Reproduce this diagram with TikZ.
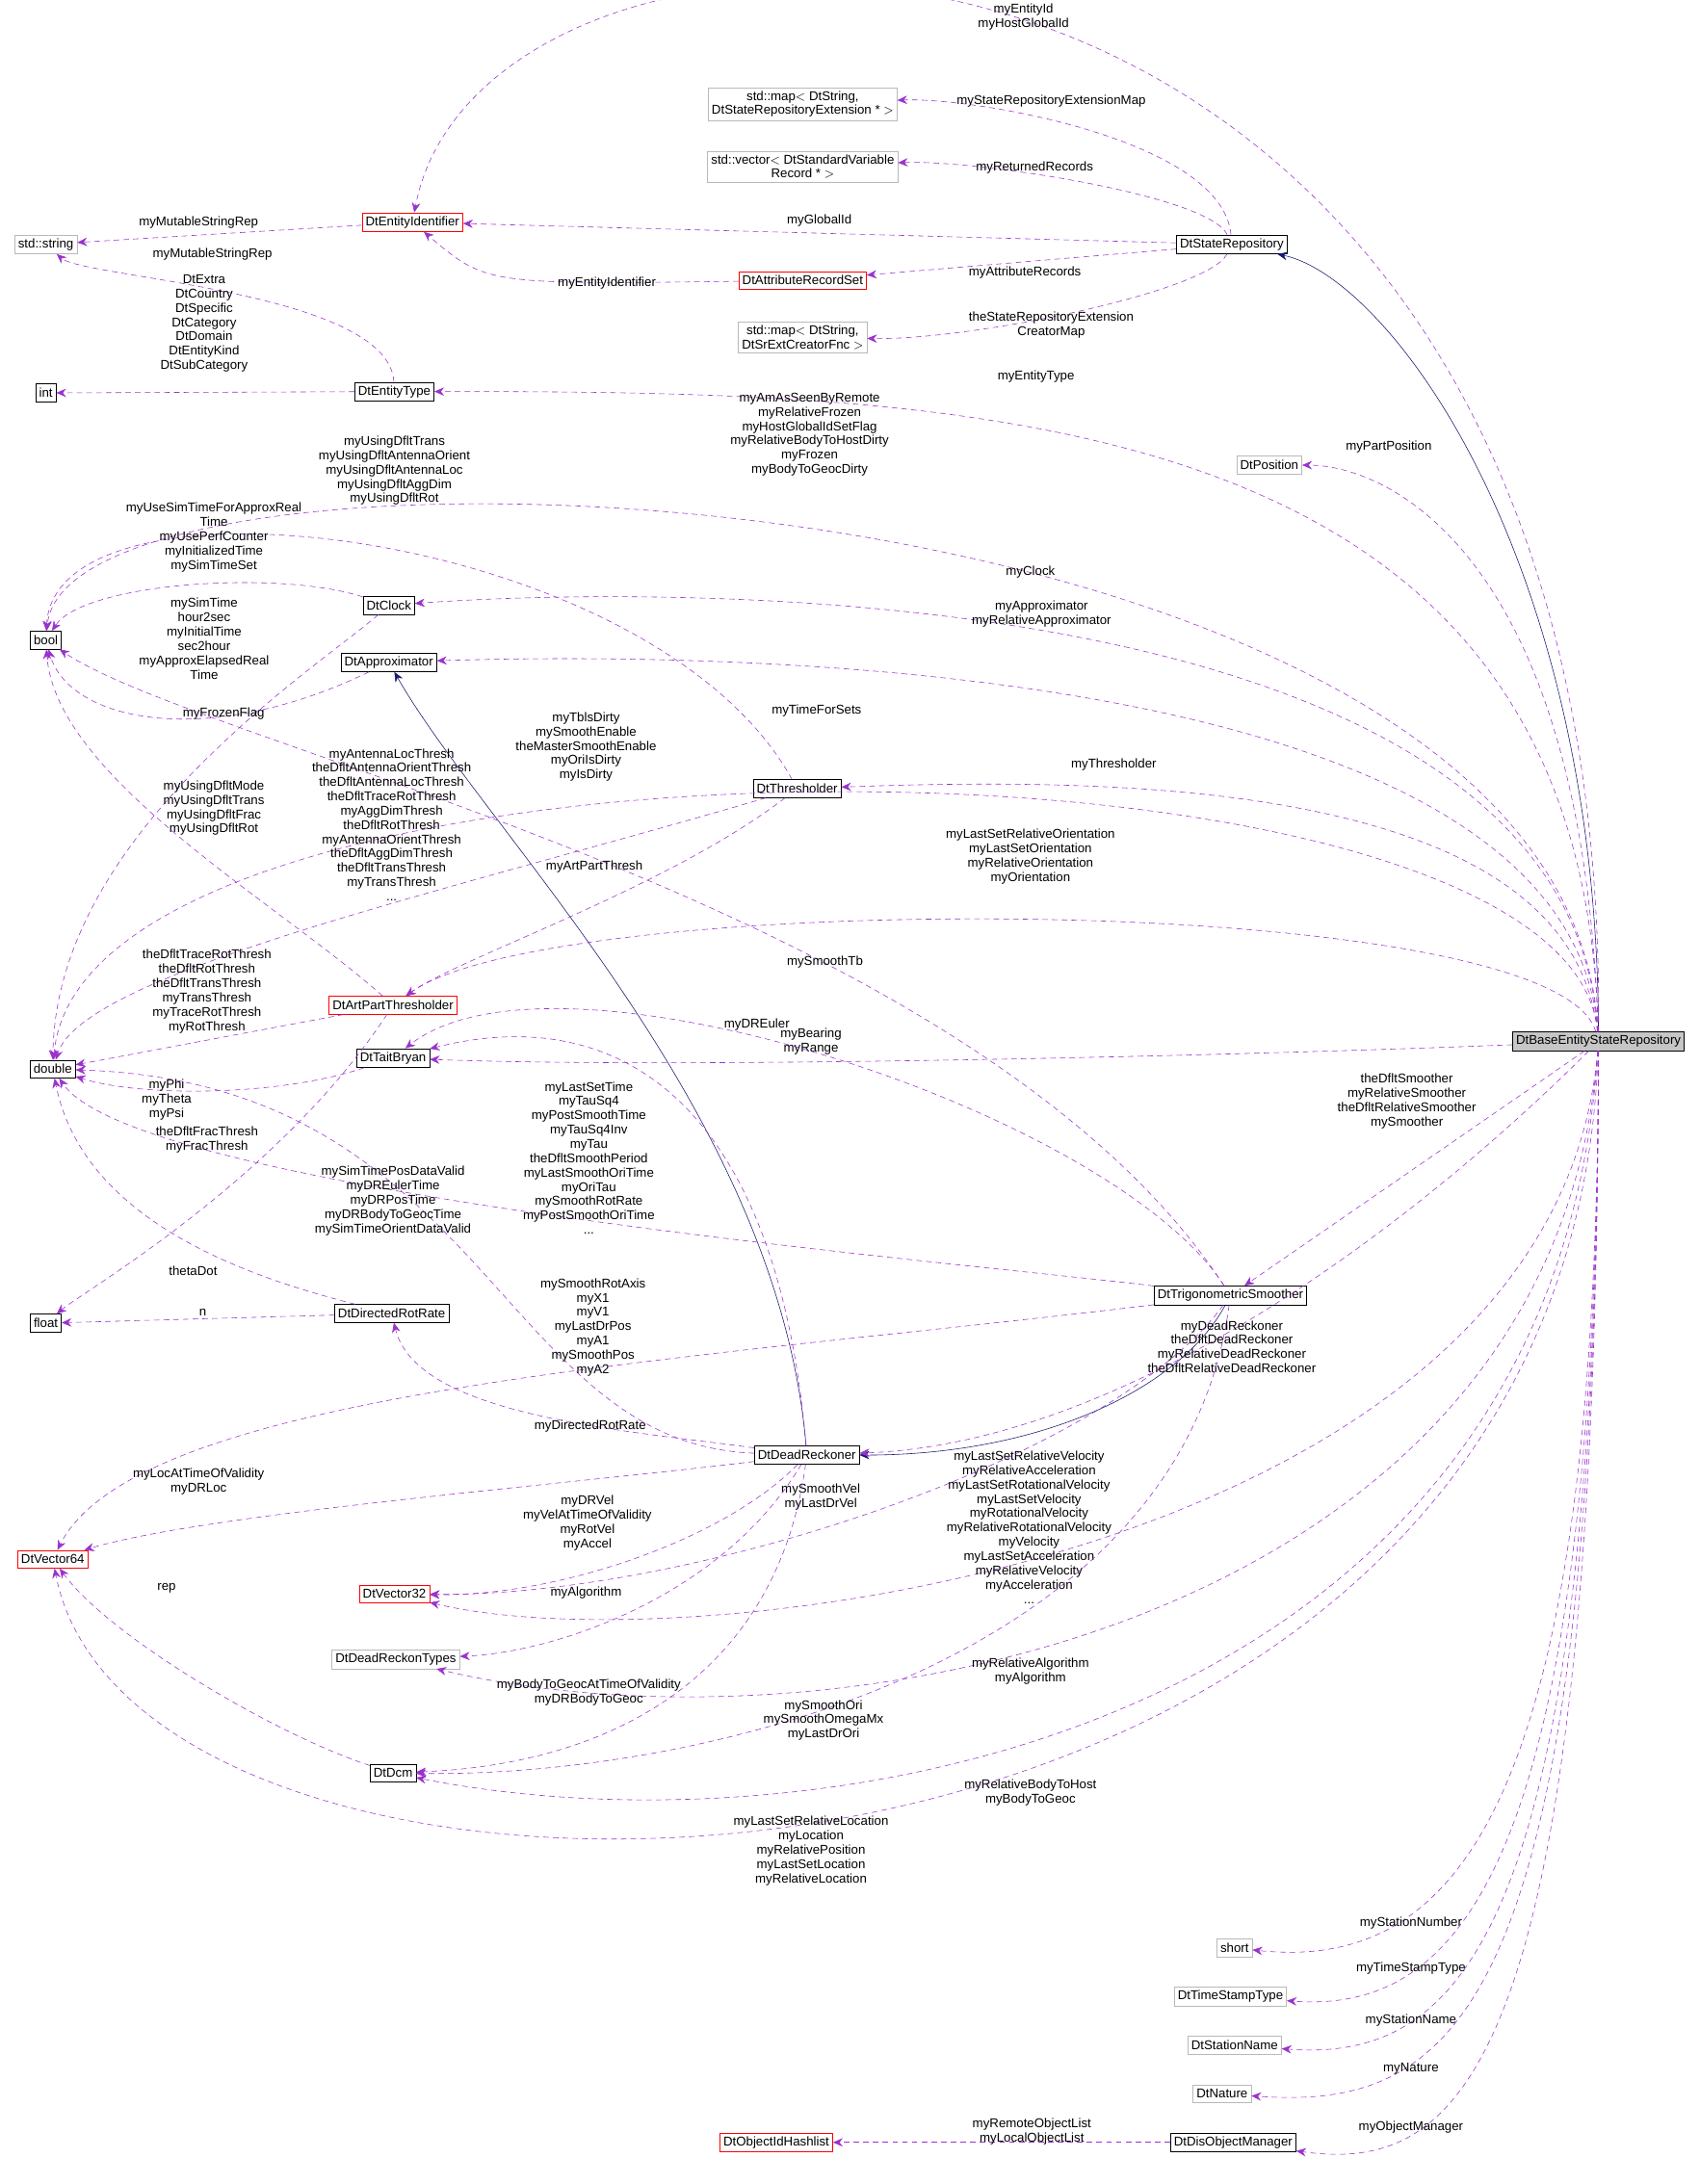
\documentclass[tikz,border=0pt]{standalone}
\usepackage{fontspec}
\setmainfont{Liberation Sans}
\usepackage{tikz}
\usetikzlibrary{arrows.meta}
\definecolor{usecol}{HTML}{9A32CD}
\definecolor{inhcol}{HTML}{191970}

\begin{document}
\begin{tikzpicture}[x=1pt, y=-1pt,
  every node/.style={font=\fontsize{9.2}{10.3}\selectfont},
  box/.style={draw=black, fill=white, align=center, inner sep=2.5pt, minimum height=13pt},
  gbox/.style={box, draw=gray!55},
  rbox/.style={box, draw=red},
  lbl/.style={align=center, inner sep=0pt},
  use/.style={draw=usecol, dash pattern=on 4pt off 3pt, -{Stealth[length=7pt,width=6pt,fill=usecol]}},
  inh/.style={draw=inhcol, -{Stealth[length=7pt,width=6pt,fill=inhcol]}}
]
\useasboundingbox (0,0) rectangle (1224,1573);

% classes
\node[box, fill=gray!45] (base) at (1151,750) {DtBaseEntityStateRepository};
\node[box] (staterep) at (887,176) {DtStateRepository};
\node[gbox] (mapext) at (578,75) {std::map$<$ DtString,\\ DtStateRepositoryExtension * $>$};
\node[gbox] (vecrec) at (578,120) {std::vector$<$ DtStandardVariable\\Record * $>$};
\node[rbox] (ident) at (297,160) {DtEntityIdentifier};
\node[gbox] (stdstr) at (33,176) {std::string};
\node[rbox] (attrrec) at (578,202) {DtAttributeRecordSet};
\node[gbox] (mapcre) at (578,243) {std::map$<$ DtString,\\ DtSrExtCreatorFnc $>$};
\node[box] (int) at (33,283) {int};
\node[box] (enttype) at (284,282) {DtEntityType};
\node[gbox] (pos) at (914,335) {DtPosition};
\node[box] (bool) at (33,461) {bool};
\node[box] (clock) at (280,436) {DtClock};
\node[box] (approx) at (280,477) {DtApproximator};
\node[box] (thresh) at (574,568) {DtThresholder};
\node[box] (double) at (38,770) {double};
\node[rbox] (artpart) at (283,724) {DtArtPartThresholder};
\node[box] (tait) at (283,762) {DtTaitBryan};
\node[box] (float) at (33,953) {float};
\node[box] (drr) at (282,946) {DtDirectedRotRate};
\node[box] (trig) at (886,933) {DtTrigonometricSmoother};
\node[box] (dr) at (581,1048) {DtDeadReckoner};
\node[rbox] (vecsf) at (38,1123) {DtVector64};
\node[rbox] (vectt) at (284,1148) {DtVector32};
\node[gbox] (drtypes) at (285,1195) {DtDeadReckonTypes};
\node[box] (dcm) at (283,1277) {DtDcm};
\node[gbox] (short) at (889,1403) {short};
\node[gbox] (tstype) at (886,1438) {DtTimeStampType};
\node[gbox] (stname) at (889,1473) {DtStationName};
\node[gbox] (nature) at (880,1508) {DtNature};
\node[rbox] (objid) at (559,1543) {DtObjectIdHashlist};
\node[box] (disobj) at (888,1543) {DtDisObjectManager};

% inheritance
\draw[inh] (base) .. controls (1150,400) and (1000,200) .. (staterep);
\draw[inh] (dr) .. controls (560,800) and (350,600) .. (approx);
\draw[inh] (trig) .. controls (850,1000) and (750,1048) .. (dr);

% members of DtBaseEntityStateRepository
\draw[use] (base) .. controls (1160,-130) and (350,-120) .. (ident);
\node[lbl] at (737,12) {myEntityId\\myHostGlobalId};
\draw[use] (base) .. controls (1140,290) and (700,282) .. (enttype);
\node[lbl] at (746,271) {myEntityType};
\draw[use] (base) .. controls (1130,330) and (50,290) .. (bool);
\node[lbl] at (583,313) {myAmAsSeenByRemote\\myRelativeFrozen\\myHostGlobalIdSetFlag\\myRelativeBodyToHostDirty\\myFrozen\\myBodyToGeocDirty};
\draw[use] (base) .. controls (1140,400) and (1000,335) .. (pos);
\node[lbl] at (1000,322) {myPartPosition};
\draw[use] (base) .. controls (1130,420) and (500,420) .. (clock);
\node[lbl] at (742,412) {myClock};
\draw[use] (base) .. controls (1130,470) and (500,470) .. (approx);
\node[lbl] at (750,442) {myApproximator\\myRelativeApproximator};
\draw[use] (base) .. controls (1130,510) and (60,510) .. (double);
\node[lbl] at (588,512) {myTimeForSets};
\draw[use] (base) .. controls (1130,560) and (800,560) .. (thresh);
\node[lbl] at (802,551) {myThresholder};
\draw[use] (base) .. controls (1120,640) and (400,640) .. (artpart);
\node[lbl] at (742,617) {myLastSetRelativeOrientation\\myLastSetOrientation\\myRelativeOrientation\\myOrientation};
\draw[use] (base) .. controls (900,760) and (500,770) .. (tait);
\node[lbl] at (584,750) {myBearing\\myRange};
\draw[use] (base) -- (trig);
\node[lbl] at (1013,793) {theDfltSmoother\\myRelativeSmoother\\theDfltRelativeSmoother\\mySmoother};
\draw[use] (base) .. controls (1000,900) and (800,1040) .. (dr);
\node[lbl] at (887,970) {myDeadReckoner\\theDfltDeadReckoner\\myRelativeDeadReckoner\\theDfltRelativeDeadReckoner};
\draw[use] (base) .. controls (1120,1120) and (500,1200) .. (vectt);
\node[lbl] at (741,1100) {myLastSetRelativeVelocity\\myRelativeAcceleration\\myLastSetRotationalVelocity\\myLastSetVelocity\\myRotationalVelocity\\myRelativeRotationalVelocity\\myVelocity\\myLastSetAcceleration\\myRelativeVelocity\\myAcceleration\\...};
\draw[use] (base) .. controls (1120,1170) and (600,1270) .. (drtypes);
\node[lbl] at (742,1204) {myRelativeAlgorithm\\myAlgorithm};
\draw[use] (base) .. controls (1120,1240) and (600,1340) .. (dcm);
\node[lbl] at (742,1291) {myRelativeBodyToHost\\myBodyToGeoc};
\draw[use] (base) .. controls (1130,1420) and (100,1440) .. (vecsf);
\node[lbl] at (584,1333) {myLastSetRelativeLocation\\myLocation\\myRelativePosition\\myLastSetLocation\\myRelativeLocation};
\draw[use] (base) .. controls (1150,1300) and (1050,1420) .. (short);
\node[lbl] at (1016,1385) {myStationNumber};
\draw[use] (base) .. controls (1150,1350) and (1050,1450) .. (tstype);
\node[lbl] at (1016,1418) {myTimeStampType};
\draw[use] (base) .. controls (1150,1400) and (1050,1485) .. (stname);
\node[lbl] at (1016,1455) {myStationName};
\draw[use] (base) .. controls (1150,1450) and (1050,1520) .. (nature);
\node[lbl] at (1016,1490) {myNature};
\draw[use] (base) .. controls (1150,1500) and (1050,1565) .. (disobj);
\node[lbl] at (1016,1532) {myObjectManager};

% members of DtStateRepository
\draw[use] (staterep) .. controls (880,100) and (700,70) .. (mapext);
\node[lbl] at (757,73) {myStateRepositoryExtensionMap};
\draw[use] (staterep) .. controls (870,140) and (700,115) .. (vecrec);
\node[lbl] at (745,121) {myReturnedRecords};
\draw[use] (staterep) -- (ident);
\node[lbl] at (590,159) {myGlobalId};
\draw[use] (staterep) -- (attrrec);
\node[lbl] at (738,196) {myAttributeRecords};
\draw[use] (staterep) .. controls (870,210) and (700,245) .. (mapcre);
\node[lbl] at (757,234) {theStateRepositoryExtension\\CreatorMap};

% other members
\draw[use] (ident) -- (stdstr);
\node[lbl] at (143,160) {myMutableStringRep};
\draw[use] (attrrec) .. controls (350,205) .. (ident);
\node[lbl] at (437,204) {myEntityIdentifier};
\draw[use] (enttype) .. controls (280,210) and (60,200) .. (stdstr);
\node[lbl] at (153,183) {myMutableStringRep};
\draw[use] (enttype) -- (int);
\node[lbl] at (147,233) {DtExtra\\DtCountry\\DtSpecific\\DtCategory\\DtDomain\\DtEntityKind\\DtSubCategory};
\draw[use] (thresh) .. controls (470,380) and (40,330) .. (bool);
\node[lbl] at (284,339) {myUsingDfltTrans\\myUsingDfltAntennaOrient\\myUsingDfltAntennaLoc\\myUsingDfltAggDim\\myUsingDfltRot};
\draw[use] (clock) .. controls (200,410) and (60,420) .. (bool);
\node[lbl] at (154,387) {myUseSimTimeForApproxReal\\Time\\myUsePerfCounter\\myInitializedTime\\mySimTimeSet};
\draw[use] (clock) .. controls (230,480) and (40,600) .. (double);
\node[lbl] at (147,460) {mySimTime\\hour2sec\\myInitialTime\\sec2hour\\myApproxElapsedReal\\Time};
\draw[use] (approx) .. controls (150,540) and (50,520) .. (bool);
\node[lbl] at (161,514) {myFrozenFlag};
\draw[use] (trig) .. controls (700,650) and (150,540) .. (bool);
\node[lbl] at (422,538) {myTblsDirty\\mySmoothEnable\\theMasterSmoothEnable\\myOriIsDirty\\myIsDirty};
\draw[use] (artpart) .. controls (200,650) and (40,560) .. (bool);
\node[lbl] at (154,582) {myUsingDfltMode\\myUsingDfltTrans\\myUsingDfltFrac\\myUsingDfltRot};
\draw[use] (thresh) .. controls (330,640) and (60,700) .. (double);
\node[lbl] at (282,594) {myAntennaLocThresh\\theDfltAntennaOrientThresh\\theDfltAntennaLocThresh\\theDfltTraceRotThresh\\myAggDimThresh\\theDfltRotThresh\\myAntennaOrientThresh\\theDfltAggDimThresh\\theDfltTransThresh\\myTransThresh\\...};
\draw[use] (thresh) .. controls (480,640) and (330,690) .. (artpart);
\node[lbl] at (428,624) {myArtPartThresh};
\draw[use] (trig) .. controls (800,800) and (400,670) .. (tait);
\node[lbl] at (594,693) {mySmoothTb};
\draw[use] (artpart) -- (double);
\node[lbl] at (149,714) {theDfltTraceRotThresh\\theDfltRotThresh\\theDfltTransThresh\\myTransThresh\\myTraceRotThresh\\myRotThresh};
\draw[use] (dr) .. controls (560,800) and (450,720) .. (tait);
\node[lbl] at (545,738) {myDREuler};
\draw[use] (tait) .. controls (200,790) and (100,790) .. (double);
\node[lbl] at (120,792) {myPhi\\myTheta\\myPsi};
\draw[use] (artpart) .. controls (200,850) and (60,930) .. (float);
\node[lbl] at (149,821) {theDfltFracThresh\\myFracThresh};
\draw[use] (trig) .. controls (700,910) and (100,860) .. (double);
\node[lbl] at (424,834) {myLastSetTime\\myTauSq4\\myPostSmoothTime\\myTauSq4Inv\\myTau\\theDfltSmoothPeriod\\myLastSmoothOriTime\\myOriTau\\mySmoothRotRate\\myPostSmoothOriTime\\...};
\draw[use] (dr) .. controls (360,1040) and (350,780) .. (double);
\node[lbl] at (283,865) {mySimTimePosDataValid\\myDREulerTime\\myDRPosTime\\myDRBodyToGeocTime\\mySimTimeOrientDataValid};
\draw[use] (drr) .. controls (180,920) and (60,880) .. (double);
\node[lbl] at (139,915) {thetaDot};
\draw[use] (drr) -- (float);
\node[lbl] at (146,945) {n};
\draw[use] (trig) .. controls (500,980) and (100,1000) .. (vecsf);
\node[lbl] at (427,956) {mySmoothRotAxis\\myX1\\myV1\\myLastDrPos\\myA1\\mySmoothPos\\myA2};
\draw[use] (dr) .. controls (450,1030) and (300,1020) .. (drr);
\node[lbl] at (425,1027) {myDirectedRotRate};
\draw[use] (dr) .. controls (400,1070) and (150,1090) .. (vecsf);
\node[lbl] at (143,1067) {myLocAtTimeOfValidity\\myDRLoc};
\draw[use] (dr) .. controls (520,1110) and (400,1150) .. (vectt);
\node[lbl] at (423,1097) {myDRVel\\myVelAtTimeOfValidity\\myRotVel\\myAccel};
\draw[use] (trig) .. controls (800,1050) and (500,1150) .. (vectt);
\node[lbl] at (591,1078) {mySmoothVel\\myLastDrVel};
\draw[use] (dr) .. controls (520,1150) and (400,1190) .. (drtypes);
\node[lbl] at (422,1147) {myAlgorithm};
\draw[use] (dr) .. controls (560,1200) and (450,1270) .. (dcm);
\node[lbl] at (424,1219) {myBodyToGeocAtTimeOfValidity\\myDRBodyToGeoc};
\draw[use] (trig) .. controls (850,1200) and (500,1280) .. (dcm);
\node[lbl] at (593,1239) {mySmoothOri\\mySmoothOmegaMx\\myLastDrOri};
\draw[use] (dcm) .. controls (200,1250) and (80,1180) .. (vecsf);
\node[lbl] at (120,1144) {rep};
\draw[use] (disobj) -- (objid);
\node[lbl] at (743,1535) {myRemoteObjectList\\myLocalObjectList};
\end{tikzpicture}
\end{document}
